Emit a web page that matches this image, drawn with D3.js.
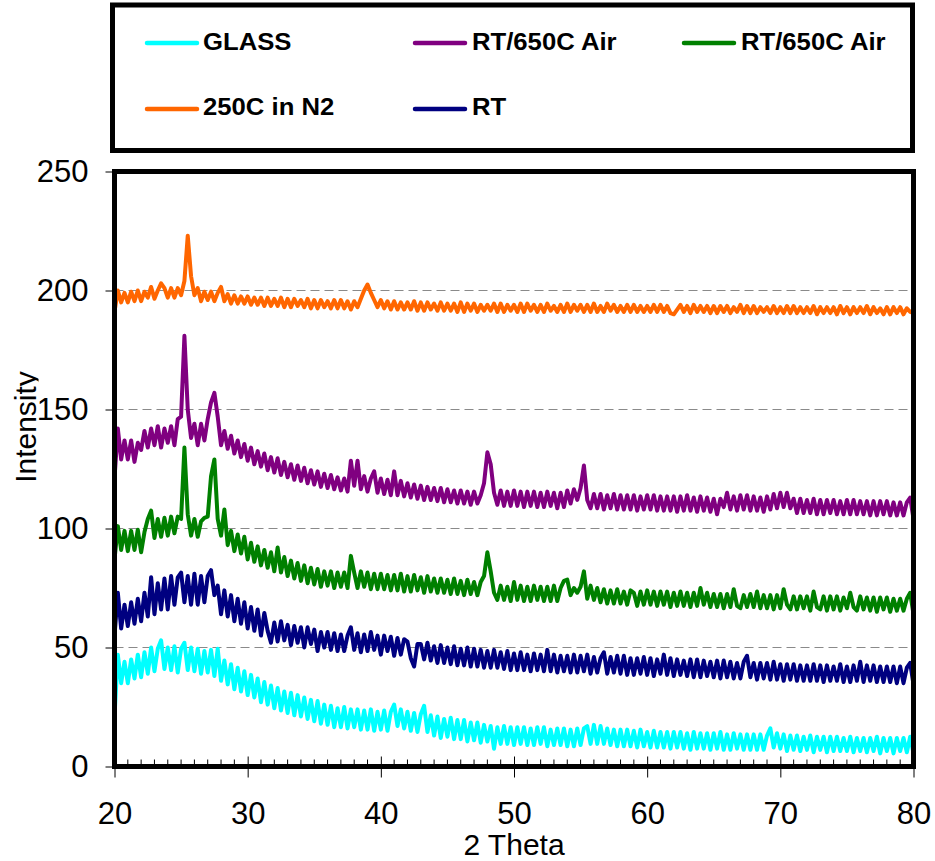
<!DOCTYPE html>
<html>
<head>
<meta charset="utf-8">
<script src="https://cdn.jsdelivr.net/npm/d3@7"></script>
<style>
  html, body { margin: 0; padding: 0; background: #ffffff; }
  svg { display: block; }
  text { font-family: Arial, "Liberation Sans", Helvetica, sans-serif; }
</style>
</head>
<body>
<svg id="chart" width="935" height="861"></svg>
<script>
// ---------- DATA ----------
// 2-theta sampling: start and step (degrees)
const thetaStart = 20;
const thetaStep = 0.25;

const xTickValues = [20, 30, 40, 50, 60, 70, 80];
const yTickValues = [0, 50, 100, 150, 200, 250];
const gridValues = [50, 100, 150, 200];

const seriesNames = ["GLASS", "RT/650C Air", "RT/650C Air", "250C in N2", "RT"];

// Intensity values, one per 0.25 deg from 20.00 to 80.00 (4 per line = 1 degree)
const glass = [
  21, 47, 35, 44,          // 20
  35, 45, 37, 47,          // 21
  37.5, 48, 39, 50,        // 22
  40, 49.5, 53, 41,        // 23
  50, 40.5, 50.5, 39.5,    // 24
  49.5, 52, 40.5, 50,      // 25
  40, 49.5, 39, 48.5,      // 26
  39.5, 49, 38, 49.5,      // 27
  36, 44.5, 34.5, 43,      // 28
  32.5, 41.5, 31.5, 40,    // 29
  30, 38.5, 29, 37,        // 30
  27, 35.5, 26, 34,        // 31
  24.5, 33, 23.5, 31.5,    // 32
  22.5, 31, 21.5, 30,      // 33
  21, 29, 20, 28,          // 34
  19, 27.5, 18, 26,        // 35
  17.5, 25.5, 16.5, 24.5,  // 36
  16.5, 25, 16, 24,        // 37
  16.5, 24, 15.5, 23.5,    // 38
  15.5, 24, 15, 23,        // 39
  15.5, 23.5, 15, 23,      // 40
  26, 17, 24, 16,          // 41
  23, 15, 22.5, 14.5,      // 42
  22, 25.5, 14.5, 21.5,    // 43
  13, 21, 12, 20,          // 44
  12.5, 20.5, 11.5, 19.5,  // 45
  11.5, 19.5, 10.5, 18.5,  // 46
  11, 18.5, 10, 17.5,      // 47
  10.5, 17, 7.5, 16.5,     // 48
  9.5, 17, 9.5, 16.5,      // 49
  9, 16.5, 9.5, 16.5,      // 50
  9, 16, 9, 16.5,          // 51
  9.5, 16.5, 8.5, 15.5,    // 52
  9, 16, 9, 16,            // 53
  8.5, 15.5, 8.5, 16,      // 54
  9, 16, 17, 9.5,          // 55
  17.5, 9.5, 17, 9.5,      // 56
  16, 9, 15.5, 8.5,        // 57
  15.5, 8.5, 15.5, 8.5,    // 58
  15, 8, 15.5, 8.5,        // 59
  14.5, 8, 15, 8,          // 60
  14.5, 8, 14.5, 7.5,      // 61
  14.5, 8, 14.5, 7.5,      // 62
  14, 7, 14.5, 7.5,        // 63
  14, 7.5, 14, 7,          // 64
  14, 7.5, 14.5, 7,        // 65
  13.5, 7, 14, 7.5,        // 66
  13.5, 7, 13.5, 7,        // 67
  13.5, 7, 13.5, 7,        // 68
  13, 16, 8, 14,           // 69
  7.5, 13.5, 6.5, 13,      // 70
  7, 13, 6.5, 12.5,        // 71
  7, 13, 6, 12.5,          // 72
  7, 12.5, 6, 12.5,        // 73
  6.5, 12.5, 6.5, 12,      // 74
  6.5, 12.5, 6, 12,        // 75
  6.5, 12, 6, 12,          // 76
  6.5, 12.5, 5.5, 12,      // 77
  6.5, 12, 5.5, 12,        // 78
  6.5, 12, 6, 12.5,        // 79
  5.5                      // 80
];

const rt650AirA = [
  121, 142, 129, 137,      // 20
  129, 137, 128, 136,      // 21
  133, 141, 134, 142,      // 22
  135, 143, 134, 142,      // 23
  136, 143, 135, 146,      // 24
  147, 181, 150, 138,      // 25
  144, 135, 144, 137,      // 26
  146, 153, 157, 147,      // 27
  135, 141, 133.5, 139,    // 28
  131.5, 137, 130, 135.5,  // 29
  128.5, 134, 127, 132.5,  // 30
  126, 131.5, 124.5, 130,  // 31
  123.5, 129.5, 122.5, 128,// 32
  121.5, 127, 120.5, 126.5,// 33
  120, 125.5, 119, 124.5,  // 34
  118.5, 124, 117.5, 123,  // 35
  117, 122.5, 116.5, 121.5,// 36
  116, 121, 115.5, 128.5,  // 37
  118, 128.5, 116.5, 122,  // 38
  115.5, 121, 124, 115,    // 39
  121, 114.5, 120.5, 114,  // 40
  124, 114, 120, 113.5,    // 41
  119, 113, 118.5, 112.5,  // 42
  118, 112, 117.5, 112,    // 43
  117, 111.5, 117, 111,    // 44
  116.5, 111, 116, 110.5,  // 45
  116, 110.5, 115.5, 110,  // 46
  115.5, 110.5, 114, 119,  // 47
  132, 127, 115, 110,      // 48
  116, 109.5, 115.5, 109.5,// 49
  116, 109.5, 115.5, 109,  // 50
  115.5, 109.5, 115.5, 109,// 51
  115, 109, 115.5, 109.5,  // 52
  115, 108.5, 115, 109,    // 53
  116, 110.5, 116.5, 112,  // 54
  117, 126.5, 112, 108.5,  // 55
  114.5, 108.5, 114.5, 108,// 56
  114, 108.5, 114.5, 108,  // 57
  114, 108, 114, 108,      // 58
  114, 107.5, 113.5, 108,  // 59
  114, 108, 114, 107.5,    // 60
  113.5, 107.5, 113.5, 107.5, // 61
  113.5, 107, 113.5, 107.5,// 62
  114, 107.5, 113, 107,    // 63
  113.5, 107.5, 113, 107,  // 64
  112.5, 106, 112.5, 109,  // 65
  115, 108, 113.5, 107.5,  // 66
  114, 108, 114, 107.5,    // 67
  113.5, 107.5, 113, 107,  // 68
  113.5, 108, 114.5, 108.5,// 69
  115, 109, 115, 108.5,    // 70
  112.5, 106.5, 112.5, 106.5, // 71
  112, 106.5, 112.5, 106,  // 72
  112, 106, 112, 106.5,    // 73
  112, 106, 111.5, 106,    // 74
  112, 106, 112, 106,      // 75
  111.5, 106, 111.5, 105.5,// 76
  111.5, 105.5, 111.5, 106,// 77
  111.5, 105.5, 111, 105.5,// 78
  111, 105.5, 111, 113,    // 79
  104                      // 80
];

const rt650AirB = [
  87, 101, 91, 99,         // 20
  90.5, 99, 91, 99.5,      // 21
  90, 98.5, 104, 107.5,    // 22
  96, 104, 96.5, 104.5,    // 23
  97, 105, 98, 105,        // 24
  104, 134, 106, 97,       // 25
  104, 96.5, 103, 104.5,   // 26
  105, 122, 129, 104,      // 27
  97, 108, 93, 99,         // 28
  90.5, 97.5, 89.5, 96.5,  // 29
  87, 94, 86, 92.5,        // 30
  84.5, 91, 83.5, 90,      // 31
  82, 92, 81.5, 88,        // 32
  80, 86.5, 79, 85.5,      // 33
  78, 84.5, 77, 83.5,      // 34
  76.5, 83, 75.5, 82,      // 35
  76, 82, 75, 81.5,        // 36
  75.5, 81.5, 75, 88.5,    // 37
  81.5, 75, 82, 75.5,      // 38
  81.5, 74.5, 81, 74.5,    // 39
  81, 74.5, 80.5, 74,      // 40
  80.5, 74, 81, 73.5,      // 41
  80, 73.5, 80.5, 74,      // 42
  79.5, 73, 80, 73.5,      // 43
  79, 73, 79, 73,          // 44
  78.5, 72.5, 79, 72.5,    // 45
  78, 72, 78.5, 72.5,      // 46
  77.5, 72, 77.5, 80,      // 47
  90, 82, 73, 70,          // 48
  76, 70, 75.5, 69.5,      // 49
  77.5, 70, 76, 69.5,      // 50
  75.5, 69.5, 76, 70,      // 51
  75.5, 69.5, 75.5, 69.5,  // 52
  76, 69.5, 75, 78,        // 53
  78.5, 72, 75, 73,        // 54
  75.5, 82, 70.5, 76,      // 55
  70, 75, 69, 74.5,        // 56
  68.5, 74, 68.5, 74.5,    // 57
  68.5, 73.5, 68, 74,      // 58
  73, 67.5, 73.5, 68,      // 59
  74, 68, 73.5, 67.5,      // 60
  73.5, 68, 73.5, 67,      // 61
  73, 67.5, 73.5, 67.5,    // 62
  73, 67, 73, 67.5,        // 63
  75, 68, 73, 67,          // 64
  72.5, 67, 72.5, 66.5,    // 65
  72.5, 67, 74.5, 67.5,    // 66
  66.5, 72, 67, 72.5,      // 67
  67, 73.5, 66.5, 72,      // 68
  66.5, 72, 66, 72,        // 69
  66.5, 74.5, 68, 66,      // 70
  71.5, 66, 71.5, 66.5,    // 71
  71.5, 65.5, 73.5, 67,    // 72
  66, 71.5, 65.5, 71.5,    // 73
  66, 71.5, 65.5, 71,      // 74
  66.5, 73, 67, 65.5,      // 75
  71.5, 66, 71, 65.5,      // 76
  71, 65, 71, 66,          // 77
  71, 65, 70.5, 65.5,      // 78
  70.5, 65.5, 70.5, 73,    // 79
  64                       // 80
];

const n2At250 = [
  191, 200, 195, 199,          // 20
  195, 199.5, 195.5, 200,      // 21
  195.5, 199.5, 197, 201.5,    // 22
  196.5, 200, 203, 201,        // 23
  197, 201, 197, 201,          // 24
  198, 204, 223, 206,          // 25
  198, 201, 195.5, 199.5,      // 26
  196, 199.5, 195.5, 199,      // 27
  201.5, 195.5, 198.5, 194.5,  // 28
  198, 194.5, 197.5, 194.5,    // 29
  197.5, 194, 197, 194,        // 30
  197, 193.5, 197, 193.5,      // 31
  196.5, 193.5, 197, 193,      // 32
  196.5, 193, 196.5, 193.5,    // 33
  196, 193, 196.5, 192.5,      // 34
  196, 192.5, 196, 193,        // 35
  195.5, 192.5, 196, 192.5,    // 36
  196, 192.5, 195.5, 192,      // 37
  195.5, 193, 196.5, 200,      // 38
  202.5, 199, 196, 193,        // 39
  196, 192.5, 195.5, 192,      // 40
  195.5, 192, 195, 192,        // 41
  195, 192, 195.5, 191.5,      // 42
  195, 191.5, 195, 192,        // 43
  194.5, 191.5, 195, 191.5,    // 44
  194.5, 191.5, 194.5, 191,    // 45
  195, 191, 194.5, 191.5,      // 46
  194.5, 191, 194, 191.5,      // 47
  194, 191.5, 194.5, 191,      // 48
  194.5, 191, 194, 191.5,      // 49
  194, 191, 194.5, 191,        // 50
  194.5, 191.5, 194, 191,      // 51
  194, 191, 194.5, 191.5,      // 52
  193.5, 191, 194, 191,        // 53
  194.5, 191, 194, 191.5,      // 54
  194, 191, 194, 191,          // 55
  194.5, 191, 193.5, 191,      // 56
  194.5, 191.5, 194, 191,      // 57
  193.5, 191, 194, 191,        // 58
  194, 191, 193.5, 191,        // 59
  193.5, 191, 194, 191,        // 60
  194, 191, 193.5, 190.5,      // 61
  190, 192, 194, 191,          // 62
  193.5, 190.5, 194, 191,      // 63
  193.5, 191, 193.5, 190.5,    // 64
  193.5, 190.5, 193.5, 191,    // 65
  193.5, 190.5, 193, 191,      // 66
  194, 190.5, 193.5, 190.5,    // 67
  193.5, 190.5, 193, 191,      // 68
  193, 190.5, 193.5, 190.5,    // 69
  193, 190.5, 193.5, 190.5,    // 70
  193.5, 190.5, 193, 190.5,    // 71
  193, 190.5, 193.5, 190,      // 72
  193, 190.5, 193, 190.5,      // 73
  193, 190, 193.5, 190.5,      // 74
  193, 190, 193, 190.5,        // 75
  193, 190.5, 193.5, 190,      // 76
  193, 190.5, 192.5, 190,      // 77
  193, 190, 193, 190.5,        // 78
  193, 190, 192.5, 191,        // 79
  190.5                        // 80
];

const rt = [
  55, 73, 58, 68,          // 20
  59, 69, 60, 70.5,        // 21
  61, 73, 63, 79.5,        // 22
  64, 77, 66, 79,          // 23
  66, 80, 68, 79.5,        // 24
  81.5, 69, 80, 68,        // 25
  81, 68, 80, 69,          // 26
  80, 82.5, 72, 76,        // 27
  64, 74, 63, 72,          // 28
  61, 70.5, 60, 69,        // 29
  58, 67, 57, 66,          // 30
  55, 64.5, 57, 52,        // 31
  60.5, 52.5, 61, 53,      // 32
  59.5, 51, 59, 52,        // 33
  58.5, 50, 58.5, 51.5,    // 34
  57.5, 48.5, 56.5, 50,    // 35
  56.5, 49, 56, 48.5,      // 36
  55.5, 48.5, 55, 58.5,    // 37
  49, 56, 48, 55.5,        // 38
  48.5, 56.5, 49, 55,      // 39
  47, 55, 48.5, 54.5,      // 40
  46.5, 54, 47, 53.5,      // 41
  52.5, 45.5, 42, 51.5,    // 42
  51.5, 45, 52, 44.5,      // 43
  50.5, 43.5, 51, 43.5,    // 44
  50, 43, 50.5, 42.5,      // 45
  49.5, 42.5, 50, 42,      // 46
  49.5, 42, 49, 41.5,      // 47
  48.5, 41.5, 49, 41.5,    // 48
  48, 41, 48.5, 40.5,      // 49
  47.5, 40.5, 48, 40.5,    // 50
  47, 40, 47.5, 40.5,      // 51
  47, 40, 49, 40,          // 52
  47, 39.5, 46.5, 40,      // 53
  46.5, 39.5, 47, 39.5,    // 54
  46.5, 40, 47, 39,        // 55
  46, 39.5, 45.5, 48,      // 56
  39, 46, 39.5, 46.5,      // 57
  39, 46.5, 38.5, 45.5,    // 58
  38.5, 45.5, 39, 46,      // 59
  38.5, 45.5, 38, 45,      // 60
  39, 47, 38.5, 45.5,      // 61
  38, 45, 38.5, 44.5,      // 62
  38, 45, 37.5, 45,        // 63
  37.5, 44.5, 38, 44,      // 64
  37.5, 44.5, 37, 44.5,    // 65
  37.5, 44, 37, 43.5,      // 66
  37, 44, 46.5, 37.5,      // 67
  43.5, 36.5, 43.5, 37,    // 68
  43.5, 36.5, 44, 36.5,    // 69
  43, 36, 43, 36.5,        // 70
  43, 36, 42.5, 36,        // 71
  42.5, 36, 43, 36,        // 72
  42.5, 35.5, 42.5, 36,    // 73
  42, 36, 43, 35.5,        // 74
  42, 35.5, 42.5, 36,      // 75
  44, 35.5, 42.5, 36,      // 76
  42.5, 35.5, 42, 35.5,    // 77
  42, 35.5, 42, 35,        // 78
  42, 35, 41.5, 43.5,      // 79
  34.5                     // 80
];

const seriesValues = [glass, rt650AirA, rt650AirB, n2At250, rt];
const seriesColors = ["#00FFFF", "#800080", "#008000", "#FF6600", "#000080"];

// ---------- DRAW ----------
const svg = d3.select("#chart");
svg.append("rect").attr("width", 935).attr("height", 861).attr("fill", "#fff");

const plot = { left: 114.5, right: 913.5, top: 171.5, bottom: 766.5 };
const x = d3.scaleLinear().domain([20, 80]).range([plot.left, plot.right]);
const y = d3.scaleLinear().domain([0, 250]).range([plot.bottom, plot.top]);

// gridlines
svg.append("g").selectAll("line").data(gridValues).join("line")
  .attr("x1", plot.left).attr("x2", plot.right)
  .attr("y1", d => y(d)).attr("y2", d => y(d))
  .attr("stroke", "#8a8a8a").attr("stroke-width", 1.2)
  .attr("stroke-dasharray", "9,5");

// minor ticks on x axis (inside, every 1 degree)
const minor = d3.range(21, 80, 1).filter(v => v % 10 !== 0);
svg.append("g").selectAll("line").data(minor).join("line")
  .attr("x1", d => x(d)).attr("x2", d => x(d))
  .attr("y1", plot.bottom).attr("y2", plot.bottom - 7)
  .attr("stroke", "#000").attr("stroke-width", 1);

// series lines
const line = d3.line()
  .x((d, i) => x(thetaStart + i * thetaStep))
  .y(d => y(d));

svg.append("defs").append("clipPath").attr("id", "plotClip")
  .append("rect").attr("x", plot.left).attr("y", plot.top - 2)
  .attr("width", plot.right - plot.left + 3).attr("height", plot.bottom - plot.top + 2);

const traces = svg.append("g").attr("clip-path", "url(#plotClip)");
seriesValues.forEach((vals, k) => {
  traces.append("path")
    .datum(vals)
    .attr("d", line)
    .attr("fill", "none")
    .attr("stroke", seriesColors[k])
    .attr("stroke-width", 4)
    .attr("stroke-linejoin", "round")
    .attr("stroke-linecap", "round");
});

// plot frame
svg.append("rect")
  .attr("x", plot.left).attr("y", plot.top)
  .attr("width", plot.right - plot.left).attr("height", plot.bottom - plot.top)
  .attr("fill", "none").attr("stroke", "#000").attr("stroke-width", 5);

// x axis major ticks and labels
const xAxisG = svg.append("g")
  .attr("transform", `translate(0,${plot.bottom})`)
  .call(d3.axisBottom(x).tickValues(xTickValues).tickSizeInner(11).tickSizeOuter(0).tickPadding(24));
xAxisG.select(".domain").remove();
xAxisG.selectAll(".tick line").attr("stroke", "#000").attr("stroke-width", 1).attr("y1", -10);
xAxisG.selectAll(".tick text")
  .attr("font-size", 31).attr("fill", "#000")
  .attr("font-family", 'Arial, "Liberation Sans", sans-serif');

// y axis ticks and labels
const yAxisG = svg.append("g")
  .attr("transform", `translate(${plot.left},0)`)
  .call(d3.axisLeft(y).tickValues(yTickValues).tickSizeInner(9).tickSizeOuter(0).tickPadding(17));
yAxisG.select(".domain").remove();
yAxisG.selectAll(".tick line").attr("stroke", "#000").attr("stroke-width", 1);
yAxisG.selectAll(".tick text")
  .attr("font-size", 31).attr("fill", "#000")
  .attr("font-family", 'Arial, "Liberation Sans", sans-serif');

// axis titles
svg.append("text")
  .attr("x", 514).attr("y", 855)
  .attr("text-anchor", "middle")
  .attr("font-size", 30).attr("fill", "#000")
  .text("2 Theta");

svg.select("defs").append("clipPath").attr("id", "yTitleClip")
  .append("rect").attr("x", 0).attr("y", 300).attr("width", 38.5).attr("height", 220);

svg.append("g").attr("clip-path", "url(#yTitleClip)")
  .append("text")
  .attr("transform", "translate(36,427) rotate(-90)")
  .attr("text-anchor", "middle")
  .attr("font-size", 30).attr("fill", "#000")
  .text("Intensity");

// legend
svg.append("rect")
  .attr("x", 112.5).attr("y", 5).attr("width", 800).attr("height", 145.5)
  .attr("fill", "#fff").attr("stroke", "#000").attr("stroke-width", 5);

const legendPos = [
  { lx: 147, ly: 43, tx: 203, ty: 49.5 },
  { lx: 415, ly: 43, tx: 472, ty: 49.5 },
  { lx: 684, ly: 43, tx: 741, ty: 49.5 },
  { lx: 147, ly: 109, tx: 203, ty: 115 },
  { lx: 415, ly: 109, tx: 472, ty: 115 }
];
seriesNames.forEach((name, k) => {
  const p = legendPos[k];
  svg.append("line")
    .attr("x1", p.lx).attr("x2", p.lx + 50)
    .attr("y1", p.ly).attr("y2", p.ly)
    .attr("stroke", seriesColors[k]).attr("stroke-width", 4.5)
    .attr("stroke-linecap", "round");
  svg.append("text")
    .attr("transform", `translate(${p.tx},${p.ty}) scale(1.07,1)`)
    .attr("font-size", 24).attr("font-weight", "bold").attr("fill", "#000")
    .text(name);
});
</script>
</body>
</html>
